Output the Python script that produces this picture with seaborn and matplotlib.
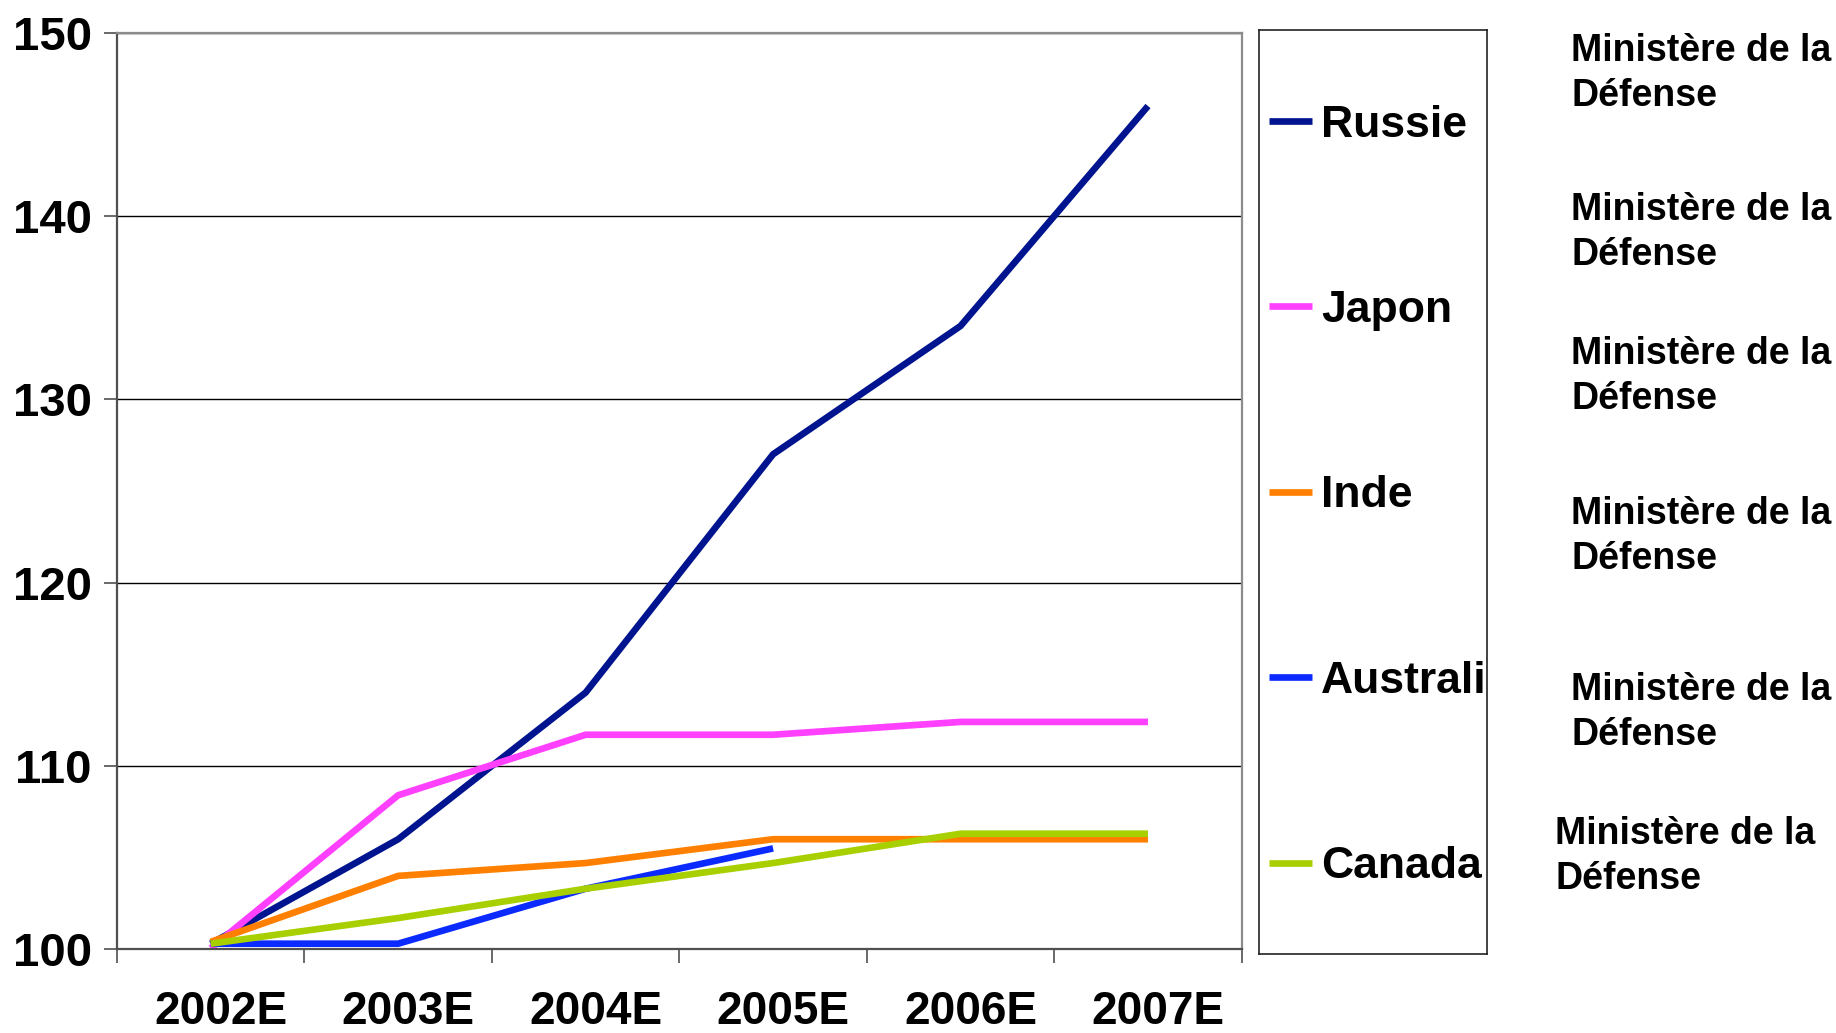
import numpy as np
import pandas as pd
import matplotlib
matplotlib.use("Agg")
import matplotlib.pyplot as plt
import matplotlib.transforms as mtransforms
import seaborn as sns

# ---------------- data ----------------
years = ["2002E", "2003E", "2004E", "2005E", "2006E", "2007E"]
countries = ["Russie", "Japon", "Inde", "Australie", "Canada"]
russie = [100.3, 106.0, 114.0, 127.0, 134.0, 146.0]
japon = [100.05, 108.4, 111.7, 111.7, 112.4, 112.4]
inde = [100.4, 104.0, 104.7, 106.0, 106.0, 106.0]
australie = [100.3, 100.3, 103.3, 105.5, np.nan, np.nan]
canada = [100.3, 101.7, 103.3, 104.7, 106.3, 106.3]
colors = ["#00148F", "#FF40FF", "#FF8000", "#0A2AFF", "#A8D000"]
y_ticks = [100, 110, 120, 130, 140, 150]
source_note = "Ministère de la\nDéfense"

series = [russie, japon, inde, australie, canada]
df = pd.DataFrame({
    "year": years * len(countries),
    "country": np.repeat(countries, len(years)),
    "value": np.concatenate(series),
})
df = df.dropna()

# ---------------- style ----------------
sns.set_theme(style="white")
plt.rcParams["font.family"] = ["Liberation Sans", "DejaVu Sans"]
plt.rcParams["font.weight"] = "bold"
plt.rcParams["text.color"] = "black"

W, H = 1836, 1033
fig = plt.figure(figsize=(W / 100, H / 100), dpi=100)
fig.patch.set_facecolor("white")

left, right, top, bottom = 117, 1241.7, 32.7, 949.2
ax = fig.add_axes([left / W, 1 - bottom / H, (right - left) / W, (bottom - top) / H])

LW = 4.8
sns.lineplot(data=df, x="year", y="value", hue="country", hue_order=countries,
             palette=colors, sort=False, lw=LW, ax=ax, legend=True)
for ln in ax.get_lines():
    ln.set_solid_capstyle("butt")
    ln.set_solid_joinstyle("miter")

ax.set_xlim(-0.5, len(years) - 0.5)
ax.set_ylim(100, 150)
ax.set_yticks(y_ticks)
ax.set_xticks(range(len(years)))
ax.set_xticklabels(years)
ax.set_xticks(np.arange(-0.5, len(years), 1.0), minor=True)
ax.set_xlabel("")
ax.set_ylabel("")

ax.set_axisbelow(True)
ax.yaxis.grid(True, color="#000000", lw=1.0)
ax.xaxis.grid(False)

for side in ["left", "bottom"]:
    ax.spines[side].set_color("#505050")
    ax.spines[side].set_linewidth(1.6)
for side in ["top", "right"]:
    ax.spines[side].set_color("#8C8C8C")
    ax.spines[side].set_linewidth(1.6)

ax.tick_params(axis="y", which="major", direction="out", length=9.4, width=1.2,
               color="#505050", pad=8.6, labelsize=34, left=True)
ax.tick_params(axis="x", which="major", length=0, pad=29.5, labelsize=33, bottom=True)
ax.tick_params(axis="x", which="minor", direction="out", length=10, width=1.2,
               color="#505050", bottom=True)
for lbl in ax.get_yticklabels() + ax.get_xticklabels():
    lbl.set_fontweight("bold")
    lbl.set_color("black")
offset = mtransforms.ScaledTranslation(10 / 100, 0, fig.dpi_scale_trans)
for lbl in ax.get_xticklabels():
    lbl.set_transform(lbl.get_transform() + offset)

# ---------------- legend ----------------
old = ax.get_legend()
handles = list(old.legend_handles)
labels = [t.get_text() for t in old.get_texts()]
old.remove()

lx0, lx1, ly0, ly1 = 1259, 1487, 30, 954
lax = fig.add_axes([lx0 / W, 1 - ly1 / H, (lx1 - lx0) / W, (ly1 - ly0) / H])
lax.set_xticks([])
lax.set_yticks([])
lax.set_facecolor("white")
for sp in lax.spines.values():
    sp.set_color("#222222")
    sp.set_linewidth(1.2)

leg = lax.legend(handles, labels, loc="upper left",
                 bbox_to_anchor=(1269 / W, 1 - 104.6 / H),
                 bbox_transform=fig.transFigure, frameon=False,
                 borderpad=0, borderaxespad=0, handlelength=0.97,
                 handletextpad=0.2, labelspacing=3.25,
                 prop=dict(weight="bold", size=32, family="Liberation Sans"))
for ln, c in zip(leg.get_lines(), colors):
    ln.set_linewidth(LW)
    ln.set_color(c)
    ln.set_solid_capstyle("butt")
for t in leg.get_texts():
    t.set_color("black")
    t.set_clip_box(lax.bbox)
    t.set_clip_on(True)

# ---------------- side notes ----------------
note_x = [1571, 1571, 1571, 1571, 1571, 1555]
note_top = [33, 192.5, 336, 496, 672, 816]
for x, y in zip(note_x, note_top):
    fig.text(x / W, 1 - y / H, source_note, ha="left", va="top",
             fontsize=27, fontweight="bold", linespacing=1.31, color="black")

fig.savefig("out.png", dpi=100)
